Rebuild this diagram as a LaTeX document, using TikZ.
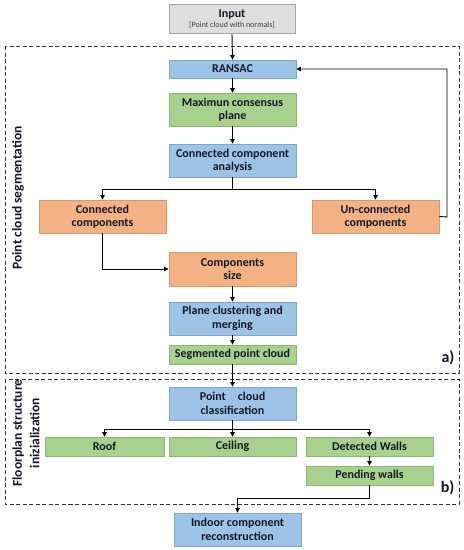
\documentclass[tikz,border=0pt]{standalone}
\usepackage{fontspec}
\setmainfont{Carlito}
\usetikzlibrary{arrows.meta,calc}
\definecolor{bfill}{HTML}{9DC3E6}
\definecolor{bline}{HTML}{7FA7CC}
\definecolor{gfill}{HTML}{A9D18E}
\definecolor{gline}{HTML}{8DB573}
\definecolor{ofill}{HTML}{F4B183}
\definecolor{oline}{HTML}{D9996E}
\definecolor{kfill}{HTML}{DEDEDE}
\definecolor{kline}{HTML}{A6A6A6}
\definecolor{txt}{HTML}{16182A}
\tikzset{
  box/.style={draw, line width=0.9pt, rectangle, align=center, inner sep=1pt,
    font=\fontsize{12}{13.5}\selectfont\bfseries, text=txt},
  bluebox/.style={box, fill=bfill, draw=bline},
  greenbox/.style={box, fill=gfill, draw=gline},
  orangebox/.style={box, fill=ofill, draw=oline},
  graybox/.style={box, fill=kfill, draw=kline},
  conn/.style={line width=0.9pt, draw=black, -{Triangle[length=4.5pt,width=4.5pt]}},
  plainconn/.style={line width=0.9pt, draw=black},
  frame/.style={line width=0.9pt, draw=black!80, dash pattern=on 4pt off 2.5pt},
  sidelabel/.style={rotate=90, align=center, font=\fontsize{13.5}{17.5}\selectfont\bfseries, text=txt},
  tag/.style={font=\fontsize{16}{16}\selectfont\bfseries, text=txt},
}
\begin{document}
\begin{tikzpicture}[x=1pt,y=-1pt]
\useasboundingbox (0,0) rectangle (464,550);
\fill[white] (0,0) rectangle (464,550);

% frames
\draw[frame] (5,46) rectangle (459,373);
\draw[frame] (5,379) rectangle (459,504);
\node[tag, anchor=east] (ta) at (458,358) {a)};
\node[tag, anchor=east] (tb) at (458,488) {b)};
\node[sidelabel] (sa) at (18,198) {Point cloud segmentation};
\node[sidelabel] (sb) at (26,433) {Floorplan structure\\inizialization};

% nodes
\node[graybox, minimum width=126pt, minimum height=29pt] (inp) at (232,19)
  {Input\\[-3pt]{\fontsize{8}{9}\selectfont\mdseries\color{black!75}[Point cloud with normals]}};
\node[bluebox, minimum width=127pt, minimum height=18pt] (ran) at (232.5,69) {RANSAC};
\node[greenbox, minimum width=127pt, minimum height=33pt] (max) at (232.5,109.5) {Maximun consensus\\plane};
\node[bluebox, minimum width=127pt, minimum height=33pt] (cca) at (232.5,160.5) {Connected component\\analysis};
\node[orangebox, minimum width=127pt, minimum height=33pt] (cc) at (102.5,216.5) {Connected\\components};
\node[orangebox, minimum width=127pt, minimum height=33pt] (uc) at (375.5,216.5) {Un-connected\\components};
\node[orangebox, minimum width=127pt, minimum height=34pt] (cs) at (232.5,269) {Components\\size};
\node[bluebox, minimum width=127pt, minimum height=33pt] (pcm) at (232.5,318.5) {Plane clustering and\\merging};
\node[greenbox, minimum width=127pt, minimum height=19pt] (seg) at (232.5,354.5) {Segmented point cloud};
\node[bluebox, minimum width=127pt, minimum height=33pt] (pcc) at (232.5,403.5) {Point\quad cloud\\classification};
\node[greenbox, minimum width=119pt, minimum height=19pt] (roof) at (104.5,446.5) {Roof};
\node[greenbox, minimum width=127pt, minimum height=19pt] (ceil) at (232.5,446.5) {Ceiling};
\node[greenbox, minimum width=127pt, minimum height=19pt] (dw) at (369.5,446.5) {Detected Walls};
\node[greenbox, minimum width=127pt, minimum height=19pt] (pw) at (369.5,475.5) {Pending walls};
\node[bluebox, minimum width=127pt, minimum height=33pt] (icr) at (237.5,529.5) {Indoor component\\reconstruction};

% helper coordinates
\coordinate (br1) at (232.5,189);
\coordinate (fb) at (447,217);
\coordinate (br2) at (232.5,429);
\coordinate (br3) at (369.5,498);

% connectors
\draw[conn] (inp.south) -- (ran.north);
\draw[conn] (ran.south) -- (max.north);
\draw[conn] (max.south) -- (cca.north);
\draw[plainconn] (cca.south) -- (br1);
\draw[conn] (br1) -| (cc.north);
\draw[conn] (br1) -| (uc.north);
\draw[conn] (uc.east) -- (fb) |- (ran.east);
\draw[conn] (cc.south) |- (cs.west);
\draw[conn] (cs.south) -- (pcm.north);
\draw[conn] (pcm.south) -- (seg.north);
\draw[conn] (seg.south) -- (pcc.north);
\draw[plainconn] (pcc.south) -- (br2);
\draw[conn] (br2) -| (roof.north);
\draw[conn] (br2) -- (ceil.north);
\draw[conn] (br2) -| (dw.north);
\draw[conn] (dw.south) -- (pw.north);
\draw[plainconn] (pw.south) -- (br3);
\draw[conn] (br3) -| (icr.north);
\end{tikzpicture}
\end{document}
